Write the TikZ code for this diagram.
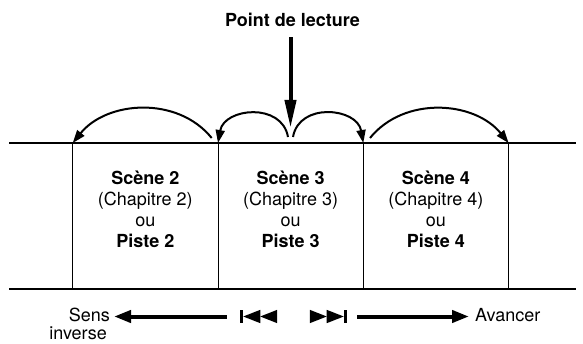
\documentclass[tikz,border=0pt]{standalone}
\usepackage{fontspec}
\setmainfont{TeX Gyre Heros}
\usetikzlibrary{arrows.meta, positioning}

\begin{document}
\begin{tikzpicture}[x=1pt, y=1pt, font=\fontsize{18}{21}\selectfont,
    rail/.style={line width=2pt},
    divider/.style={line width=1pt},
    jump/.style={line width=2pt, -{Triangle[length=13pt,width=9pt]}},
    seek/.style={line width=4pt, -{Triangle[length=17pt,width=12pt]}},
    drop/.style={line width=4pt, -{Triangle[length=28pt,width=11pt]}},
    scenetxt/.style={align=center, inner sep=0pt},
    side/.style={inner sep=4pt},
    skipbox/.style={minimum width=37pt, minimum height=13pt, inner sep=0pt}]
  \useasboundingbox (0,0) rectangle (583,343);
  % the disc as a strip, cut into chapters
  \draw[rail] (9,200) -- (576,200);
  \draw[rail] (9,54) -- (576,54);
  \foreach \i/\x in {1/72.7, 2/218, 3/363.3, 4/508.6} {
    \coordinate (t\i) at (\x,200);
    \draw[divider] (t\i) -- (\x,54);
  }
  \foreach \n/\x in {2/145.3, 3/290.6, 4/435.9} {
    \node[scenetxt] (sc\n) at (\x,134)
      {\textbf{Scène \n}\\(Chapitre \n)\\ou\\\textbf{Piste \n}};
  }
  % playing position and the jumps
  \node (title) at (292.5,323) {\textbf{Point de lecture}};
  \coordinate (pl) at (290.5,215);
  \draw[drop, shorten <=7pt] (title.south -| pl) -- (pl);
  \draw[jump] ([shift={(-6.3,5)}]t2) to[out=129, in=51] (t1);
  \draw[jump] ([shift={(-2.5,-9)}]pl) to[out=100, in=80, looseness=1.3] (t2);
  \draw[jump] ([shift={(2.5,-9)}]pl) to[out=80, in=100, looseness=1.3] (t3);
  \draw[jump] ([shift={(6.7,5)}]t3) to[out=51, in=129] (t4);
  % skip buttons
  \node[skipbox] (prev) at (258.5,26.5) {};
  \fill (prev.north west) rectangle ([xshift=3.5pt]prev.south west);
  \fill ([xshift=3.5pt]prev.west) -- ([xshift=20.5pt]prev.north west)
    -- ([xshift=20.5pt]prev.south west) -- cycle;
  \fill ([xshift=20.5pt]prev.west) -- (prev.north east) -- (prev.south east) -- cycle;
  \node[skipbox] (next) at (328.5,26.5) {};
  \fill (next.north east) rectangle ([xshift=-3.5pt]next.south east);
  \fill ([xshift=-3.5pt]next.east) -- ([xshift=-20.5pt]next.north east)
    -- ([xshift=-20.5pt]next.south east) -- cycle;
  \fill ([xshift=-20.5pt]next.east) -- (next.north west) -- (next.south west) -- cycle;
  % directions
  \node[side, anchor=base east] (sens) at (114,22) {Sens};
  \node[side, inner sep=2pt, anchor=base east] (inv) at (109,4) {inverse};
  \node[side, anchor=base west] (avan) at (471,22) {Avancer};
  \draw[seek, shorten <=13pt] (prev.west) -- (prev.west -| sens.east);
  \draw[seek, shorten <=10pt, shorten >=2pt] (next.east) -- (next.east -| avan.west);
\end{tikzpicture}
\end{document}
